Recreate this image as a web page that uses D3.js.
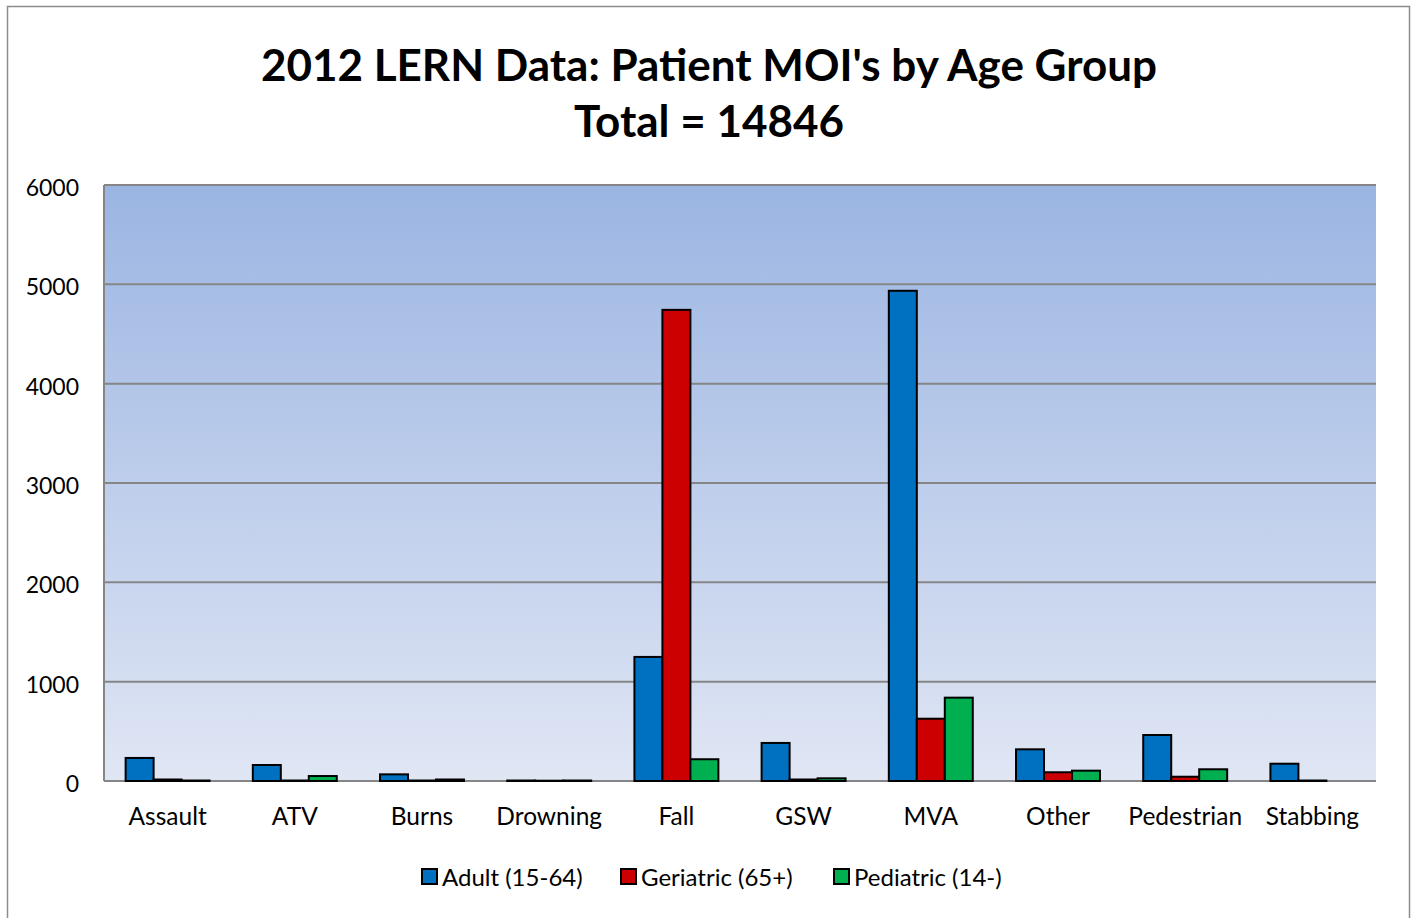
<!DOCTYPE html>
<html>
<head>
<meta charset="utf-8">
<script src="https://cdn.jsdelivr.net/npm/d3@7"></script>
<style>
  body { margin: 0; background: #fff; }
  svg { display: block; font-family: Lato, "Open Sans", sans-serif; }
</style>
</head>
<body>
<div id="chart"></div>
<script>
// categories and series
const categories = ["Assault", "ATV", "Burns", "Drowning", "Fall", "GSW", "MVA", "Other", "Pedestrian", "Stabbing"];
const seriesNames = ["Adult (15-64)", "Geriatric (65+)", "Pediatric (14-)"];
const seriesColors = ["#0070c0", "#cc0000", "#00b050"];
const adult = [232, 161, 67, 5, 1249, 383, 4935, 319, 463, 174];
const geriatric = [15, 5, 5, 3, 4743, 15, 627, 88, 43, 5];
const pediatric = [5, 50, 15, 5, 219, 27, 839, 104, 118, 0];
const yTicks = [0, 1000, 2000, 3000, 4000, 5000, 6000];

const series = [adult, geriatric, pediatric];

const width = 1413, height = 918;
const margin = {top: 185, right: 37, bottom: 137, left: 104};

const svg = d3.create("svg")
  .attr("width", width)
  .attr("height", height);

// outer frame
svg.append("rect")
  .attr("x", 7.5).attr("y", 6.5)
  .attr("width", 1402).attr("height", 930)
  .attr("fill", "#fff")
  .attr("stroke", "#8c8c8c")
  .attr("stroke-width", 1.5);

// gradient for plot background
const grad = svg.append("defs").append("linearGradient")
  .attr("id", "bg").attr("x1", 0).attr("y1", 0).attr("x2", 0).attr("y2", 1);
grad.append("stop").attr("offset", "0%").attr("stop-color", "#9bb5e2");
grad.append("stop").attr("offset", "100%").attr("stop-color", "#e0e6f4");

const x = d3.scaleBand()
  .domain(categories)
  .range([margin.left, width - margin.right])
  .paddingInner(0.34)
  .paddingOuter(0.17);

const xInner = d3.scaleBand()
  .domain(d3.range(series.length))
  .range([0, x.bandwidth()]);

const y = d3.scaleLinear()
  .domain([0, 6000])
  .range([height - margin.bottom, margin.top]);

svg.append("rect")
  .attr("x", margin.left).attr("y", margin.top)
  .attr("width", width - margin.right - margin.left)
  .attr("height", y(0) - margin.top)
  .attr("fill", "url(#bg)");

// gridlines
svg.append("g")
  .selectAll("line")
  .data(yTicks)
  .join("line")
  .attr("x1", margin.left).attr("x2", width - margin.right)
  .attr("y1", d => y(d)).attr("y2", d => y(d))
  .attr("stroke", "#868686")
  .attr("stroke-width", 2);

// left axis line
svg.append("line")
  .attr("x1", margin.left).attr("x2", margin.left)
  .attr("y1", margin.top).attr("y2", y(0))
  .attr("stroke", "#868686").attr("stroke-width", 2);

// y-axis
svg.append("g")
  .attr("transform", `translate(${margin.left}, 3)`)
  .call(d3.axisLeft(y).tickValues(yTicks).tickSize(0).tickPadding(25).tickFormat(d3.format("d")))
  .call(g => g.select(".domain").remove())
  .call(g => g.selectAll("text")
    .attr("font-family", "Lato, 'Open Sans', sans-serif")
    .attr("font-size", 23).attr("fill", "#000"));

// x-axis labels
svg.append("g")
  .attr("transform", `translate(0, ${y(0)})`)
  .call(d3.axisBottom(x).tickSize(0).tickPadding(27))
  .call(g => g.select(".domain").remove())
  .call(g => g.selectAll("text")
    .attr("font-family", "Lato, 'Open Sans', sans-serif")
    .attr("font-size", 24.5).attr("fill", "#000"));

// bars
const groups = svg.append("g")
  .selectAll("g")
  .data(categories)
  .join("g")
  .attr("transform", d => `translate(${x(d)}, 0)`);

groups.selectAll("rect")
  .data((d, i) => series.map((s, j) => ({j, v: s[i]})))
  .join("rect")
  .attr("x", d => xInner(d.j))
  .attr("width", xInner.bandwidth())
  .attr("y", d => y(d.v))
  .attr("height", d => y(0) - y(d.v))
  .attr("fill", d => seriesColors[d.j])
  .attr("stroke", "#000")
  .attr("stroke-width", 2);

// title
const title = svg.append("text")
  .attr("text-anchor", "middle")
  .attr("font-family", "Lato, 'Open Sans', sans-serif")
  .attr("font-weight", "bold")
  .attr("font-size", 44)
  .attr("fill", "#000");
title.append("tspan").attr("x", 709).attr("y", 81).text("2012 LERN Data: Patient MOI's by Age Group");
title.append("tspan").attr("x", 709).attr("y", 137).text("Total = 14846");

// legend
const legendX = [422, 621, 834];
const legend = svg.append("g")
  .selectAll("g")
  .data(seriesNames)
  .join("g")
  .attr("transform", (d, i) => `translate(${legendX[i]}, 869)`);
legend.append("rect")
  .attr("width", 15).attr("height", 15)
  .attr("fill", (d, i) => seriesColors[i])
  .attr("stroke", "#000").attr("stroke-width", 2);
legend.append("text")
  .attr("x", 20).attr("y", 17)
  .attr("font-family", "Lato, 'Open Sans', sans-serif")
  .attr("font-size", 24)
  .text(d => d);

document.getElementById("chart").appendChild(svg.node());
</script>
</body>
</html>
